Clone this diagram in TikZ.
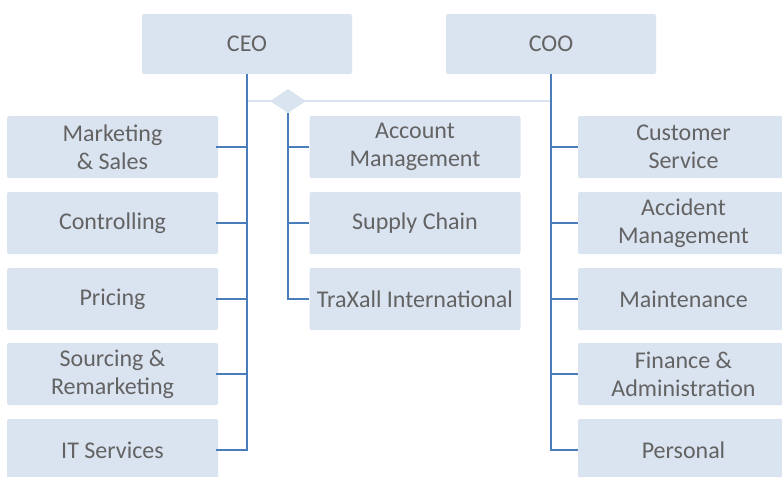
\documentclass[tikz,border=0pt]{standalone}
\usepackage{fontspec}
\setmainfont{Carlito}
\usetikzlibrary{shapes.geometric}
\definecolor{boxfill}{HTML}{DAE3F0}
\definecolor{linecol}{HTML}{4A7EBB}
\definecolor{txt}{HTML}{636363}
\begin{document}
\begin{tikzpicture}[x=0.75pt,y=-0.75pt,
  orgbox/.style={draw=none,fill=boxfill,rounded corners=1.5pt,minimum width=158.25pt,minimum height=46.5pt,inner sep=0pt,align=center,text=txt,font=\fontsize{18}{21}\selectfont},
  topbox/.style={orgbox,minimum width=157.5pt,minimum height=45pt},
  link/.style={draw=linecol,line width=1.6pt},
  faint/.style={draw=boxfill,line width=1.5pt}]
\useasboundingbox (0,0) rectangle (782,476);
\begin{scope}
\clip (0,0) rectangle (782,476);
\node[topbox] (ceo) at (247,44) {CEO};
\node[topbox] (coo) at (551,44) {COO};
% left column
\node[orgbox] (ms) at (112.5,147) {Marketing\\ \& Sales};
\node[orgbox] (ctl) at (112.5,223) {Controlling};
\node[orgbox] (pr) at (112.5,299) {Pricing};
\node[orgbox] (src) at (112.5,374) {Sourcing \&\\Remarketing};
\node[orgbox] (it) at (112.5,450) {IT Services};
% middle column
\node[orgbox] (am) at (415,147) {Account\\Management};
\node[orgbox] (sc) at (415,223) {Supply Chain};
\node[orgbox] (tx) at (415,299) {TraXall International};
% right column
\node[orgbox] (cs) at (683.5,147) {Customer\\Service};
\node[orgbox] (acc) at (683.5,223) {Accident\\Management};
\node[orgbox] (mt) at (683.5,299) {Maintenance};
\node[orgbox] (fa) at (683.5,374) {Finance \&\\Administration};
\node[orgbox] (pe) at (683.5,450) {Personal};
\end{scope}
% faint horizontal link and diamond
\coordinate (hl) at (247,101);
\coordinate (hr) at (551,101);
\draw[faint] (hl) -- (hr);
\node[diamond,fill=boxfill,draw=none,inner sep=0pt,minimum width=27pt,minimum height=18pt] (dia) at (288,101) {};
% CEO trunk
\draw[link] (ceo.south) -- (ceo.south |- it.east);
\foreach \b in {ms,ctl,pr,src,it}{\draw[link] ([xshift=-1.5pt]\b.east) -| (ceo.south);}
% middle trunk
\draw[link] (dia.south) -- (dia.south |- tx.west);
\foreach \b in {am,sc,tx}{\draw[link] (\b.west) -| (dia.south);}
% COO trunk
\draw[link] (coo.south) -- (coo.south |- pe.west);
\foreach \b in {cs,acc,mt,fa,pe}{\draw[link] (\b.west) -| (coo.south);}
\end{tikzpicture}
\end{document}
